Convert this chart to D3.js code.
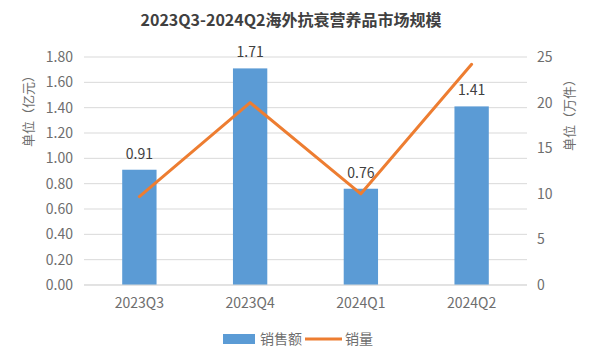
<!DOCTYPE html>
<html lang="zh">
  <head>
    <meta charset="utf-8">
    <title>海外抗衰营养品市场规模</title>
    <script src="https://cdn.jsdelivr.net/npm/d3@7"></script>
  </head>
  <style>
    body, html {
      margin: 0;
      padding: 0;
      background: #fff;
    }
    svg {
      font-family: "Noto Sans CJK SC", "Noto Sans", sans-serif;
    }
  </style>
  <body>
    <svg width="600" height="364"></svg>
  </body>
  <script>
    // data
    const quarters = ['2023Q3', '2023Q4', '2024Q1', '2024Q2']
    const sales = [0.91, 1.71, 0.76, 1.41]       // 销售额, 亿元
    const volume = [9.7, 20, 10, 24.2]           // 销量, 万件
    const leftTicks = [0, 0.2, 0.4, 0.6, 0.8, 1.0, 1.2, 1.4, 1.6, 1.8]
    const rightTicks = [0, 5, 10, 15, 20, 25]

    const svg = d3.select('svg')
    const margin = { left: 84, right: 73, top: 57, bottom: 79 }
    const width = 600
    const height = 364
    const barColor = '#5b9bd5'
    const lineColor = '#ed7d31'
    const textColor = '#6e6e6e'

    const x = d3.scaleBand()
      .domain(quarters)
      .range([margin.left, width - margin.right])
      .paddingInner(0.69)
      .paddingOuter(0.345)

    const yLeft = d3.scaleLinear()
      .domain([0, 1.8])
      .range([height - margin.bottom, margin.top])

    const yRight = d3.scaleLinear()
      .domain([0, 25])
      .range([height - margin.bottom, margin.top])

    // title
    svg.append('text')
      .attr('x', 291)
      .attr('y', 26)
      .attr('text-anchor', 'middle')
      .attr('font-size', 16)
      .attr('font-weight', 700)
      .attr('fill', '#404040')
      .text('2023Q3-2024Q2海外抗衰营养品市场规模')

    // gridlines
    svg.append('g')
      .selectAll('line')
      .data(leftTicks)
      .join('line')
      .attr('x1', margin.left)
      .attr('x2', width - margin.right)
      .attr('y1', d => yLeft(d))
      .attr('y2', d => yLeft(d))
      .attr('stroke', '#d9d9d9')
      .attr('stroke-width', 1)

    // left axis
    const leftAxis = svg.append('g')
      .attr('transform', 'translate(' + (margin.left - 11) + ',0)')
      .call(d3.axisLeft(yLeft).tickValues(leftTicks).tickFormat(d3.format('.2f')).tickSize(0).tickPadding(0))
    leftAxis.select('.domain').remove()
    leftAxis.selectAll('text')
      .attr('font-size', 14)
      .attr('fill', textColor)
      .style('font-family', '"Noto Sans CJK SC", sans-serif')

    // right axis
    const rightAxis = svg.append('g')
      .attr('transform', 'translate(' + (width - margin.right + 10) + ',0)')
      .call(d3.axisRight(yRight).tickValues(rightTicks).tickSize(0).tickPadding(0))
    rightAxis.select('.domain').remove()
    rightAxis.selectAll('text')
      .attr('font-size', 14)
      .attr('fill', textColor)
      .style('font-family', '"Noto Sans CJK SC", sans-serif')

    // axis titles
    svg.append('text')
      .attr('transform', 'translate(33,108) rotate(-90)')
      .attr('text-anchor', 'middle')
      .attr('font-size', 13)
      .attr('fill', textColor)
      .text('单位（亿元）')

    svg.append('text')
      .attr('transform', 'translate(574,112) rotate(-90)')
      .attr('text-anchor', 'middle')
      .attr('font-size', 13)
      .attr('fill', textColor)
      .text('单位（万件）')

    // bars
    svg.append('g')
      .selectAll('rect')
      .data(sales)
      .join('rect')
      .attr('x', (d, i) => x(quarters[i]))
      .attr('y', d => yLeft(d))
      .attr('width', x.bandwidth())
      .attr('height', d => yLeft(0) - yLeft(d))
      .attr('fill', barColor)

    // bar labels
    svg.append('g')
      .selectAll('text')
      .data(sales)
      .join('text')
      .attr('x', (d, i) => x(quarters[i]) + x.bandwidth() / 2)
      .attr('y', d => yLeft(d) - 11)
      .attr('text-anchor', 'middle')
      .attr('font-size', 14)
      .attr('fill', '#404040')
      .text(d => d3.format('.2f')(d))

    // x axis baseline + labels
    svg.append('line')
      .attr('x1', margin.left)
      .attr('x2', width - margin.right)
      .attr('y1', yLeft(0))
      .attr('y2', yLeft(0))
      .attr('stroke', '#d9d9d9')

    svg.append('g')
      .selectAll('text')
      .data(quarters)
      .join('text')
      .attr('x', d => x(d) + x.bandwidth() / 2)
      .attr('y', yLeft(0) + 23)
      .attr('text-anchor', 'middle')
      .attr('font-size', 14)
      .attr('fill', textColor)
      .text(d => d)

    // line
    const line = d3.line()
      .x((d, i) => x(quarters[i]) + x.bandwidth() / 2)
      .y(d => yRight(d))

    svg.append('path')
      .datum(volume)
      .attr('d', line)
      .attr('fill', 'none')
      .attr('stroke', lineColor)
      .attr('stroke-width', 3)
      .attr('stroke-linejoin', 'round')
      .attr('stroke-linecap', 'round')

    // legend
    const legend = svg.append('g').attr('transform', 'translate(223,339)')
    legend.append('rect')
      .attr('x', 0)
      .attr('y', -5)
      .attr('width', 32)
      .attr('height', 10)
      .attr('fill', barColor)
    legend.append('text')
      .attr('x', 37)
      .attr('y', 5)
      .attr('font-size', 14)
      .attr('fill', textColor)
      .text('销售额')
    legend.append('line')
      .attr('x1', 82)
      .attr('x2', 119)
      .attr('y1', 0)
      .attr('y2', 0)
      .attr('stroke', lineColor)
      .attr('stroke-width', 3)
    legend.append('text')
      .attr('x', 122)
      .attr('y', 5)
      .attr('font-size', 14)
      .attr('fill', textColor)
      .text('销量')
  </script>
</html>
